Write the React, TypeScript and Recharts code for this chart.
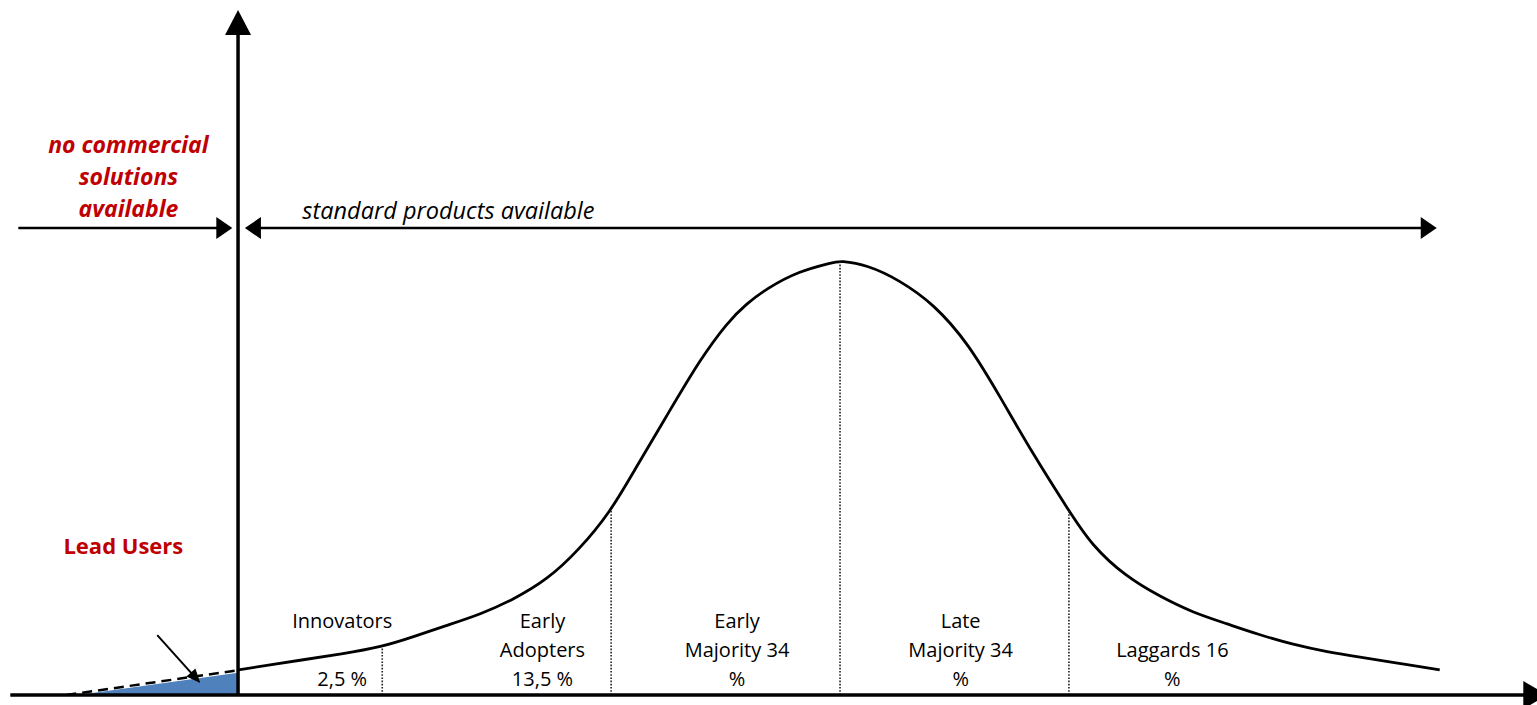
import React from 'react'
import { ComposedChart, Line, Area, XAxis, YAxis, ReferenceLine, ReferenceDot } from 'recharts'

// x: standard deviations from mean adoption time, y: adopters as % of the peak
const curveX = [-2.63, -2.49, -2.35, -2.18, -2, -1.87, -1.72, -1.57, -1.43, -1.28, -1.14, -1, -0.9, -0.76, -0.61, -0.49, -0.41, -0.32, -0.18, -0.03, 0, 0.12, 0.26, 0.41, 0.56, 0.7, 0.84, 1, 1.1, 1.25, 1.4, 1.54, 1.69, 1.83, 1.98, 2.13, 2.27, 2.42, 2.62]
const curveY = [5.8, 6.9, 8.1, 9.4, 11.1, 13.3, 16.0, 18.6, 21.9, 26.5, 33.4, 42.4, 51.6, 64.0, 77.4, 85.9, 90.0, 93.6, 97.6, 99.6, 100, 99.0, 95.5, 90.0, 81.0, 68.6, 55.7, 42.4, 34.4, 27.2, 22.6, 19.0, 16.4, 13.9, 11.6, 9.9, 8.7, 7.5, 5.8]

// lead users before market launch
const leadX = [-3.33, -2.63]
const leadY = [0, 5.1]
const dashX = [-3.38, -2.63]
const dashY = [0, 5.7]

const dividerX = [-2, -1, 0, 1]

const segmentX = [-2.175, -1.3, -0.45, 0.527, 1.452]
const segmentLines = [
  ['Innovators', '', '2,5 %'],
  ['Early', 'Adopters', '13,5 %'],
  ['Early', 'Majority 34', '%'],
  ['Late', 'Majority 34', '%'],
  ['', 'Laggards 16', '%'],
]

const AXIS_X = -2.63
const AXIS_TOP = 157.7
const MARKET_Y = 107.5

const curveData = curveX.map((x, i) => ({ x, y: curveY[i] }))
const leadData = leadX.map((x, i) => ({ x, y: leadY[i] }))
const dashData = dashX.map((x, i) => ({ x, y: dashY[i] }))

const RED = '#C00000'
const FONT = '"Open Sans", Lato, sans-serif'

const arrow = (o: { start?: boolean; end?: boolean; len: number; half: number; width: number }) =>
  (props: any) => {
    const { x1, y1, x2, y2 } = props
    const dx = x2 - x1
    const dy = y2 - y1
    const d = Math.hypot(dx, dy) || 1
    const ux = dx / d
    const uy = dy / d
    const head = (tx: number, ty: number, sx: number, sy: number) => {
      const bx = tx - sx * o.len
      const by = ty - sy * o.len
      return `${tx},${ty} ${bx - sy * o.half},${by + sx * o.half} ${bx + sy * o.half},${by - sx * o.half}`
    }
    const ax = o.start ? x1 + ux * (o.len - 1) : x1
    const ay = o.start ? y1 + uy * (o.len - 1) : y1
    const bx = o.end ? x2 - ux * (o.len - 1) : x2
    const by = o.end ? y2 - uy * (o.len - 1) : y2
    return (
      <g>
        <line x1={ax} y1={ay} x2={bx} y2={by} stroke="#000" strokeWidth={o.width} />
        {o.end && <polygon points={head(x2, y2, ux, uy)} fill="#000" />}
        {o.start && <polygon points={head(x1, y1, -ux, -uy)} fill="#000" />}
      </g>
    )
  }

export default function App() {
  return (
    <div style={{ position: 'absolute', left: 0, top: 0, background: '#fff' }}>
      <ComposedChart width={1537} height={705} margin={{ top: 0, right: 0, bottom: 10, left: 0 }}>
        <XAxis type="number" dataKey="x" domain={[-3.67, 3.045]} hide allowDataOverflow />
        <YAxis type="number" domain={[0, 160]} hide allowDataOverflow />

        <Area data={leadData} dataKey="y" type="linear" baseValue={0} stroke="none" fill="#4F81BD" fillOpacity={1} dot={false} activeDot={false} isAnimationActive={false} />
        <Line data={dashData} dataKey="y" type="linear" stroke="#000" strokeWidth={2.5} strokeDasharray="10 6" dot={false} activeDot={false} isAnimationActive={false} />
        <Line data={curveData} dataKey="y" type="basis" stroke="#000" strokeWidth={2.8} dot={false} activeDot={false} isAnimationActive={false} />

        {dividerX.map((x) => (
          <ReferenceLine
            key={x}
            segment={[{ x, y: 0 }, { x, y: curveY[curveX.indexOf(x)] }]}
            stroke="#222"
            strokeWidth={1.6}
            strokeDasharray="1.6 1.6"
          />
        ))}

        {/* axes */}
        <ReferenceLine segment={[{ x: -3.625, y: 0 }, { x: 3.09, y: 0 }]} ifOverflow="visible" shape={arrow({ end: true, len: 24, half: 14, width: 3.5 })} />
        <ReferenceLine segment={[{ x: AXIS_X, y: 0 }, { x: AXIS_X, y: AXIS_TOP }]} ifOverflow="visible" shape={arrow({ end: true, len: 25, half: 13, width: 3.5 })} />

        {/* market availability arrows */}
        <ReferenceLine segment={[{ x: -3.59, y: MARKET_Y }, { x: -2.655, y: MARKET_Y }]} shape={arrow({ end: true, len: 16, half: 11, width: 2.4 })} />
        <ReferenceLine segment={[{ x: -2.6, y: MARKET_Y }, { x: 2.607, y: MARKET_Y }]} shape={arrow({ start: true, end: true, len: 16, half: 11, width: 2.4 })} />

        {/* lead users pointer */}
        <ReferenceLine segment={[{ x: -2.983, y: 13.8 }, { x: -2.795, y: 2.76 }]} shape={arrow({ end: true, len: 14, half: 6, width: 2 })} />

        {segmentX.map((x, i) => (
          <ReferenceDot
            key={`seg-${i}`}
            x={x}
            y={0}
            r={0}
            shape={(p: any) => (
              <text textAnchor="middle" fontFamily={FONT} fontSize={20} fill="#000">
                {segmentLines[i].map((t, j) => (
                  <tspan key={j} x={p.cx} y={p.cy - 67 + j * 29}>{t}</tspan>
                ))}
              </text>
            )}
          />
        ))}

        <ReferenceDot
          x={-3.109}
          y={MARKET_Y}
          r={0}
          shape={(p: any) => (
            <text textAnchor="middle" fontFamily={FONT} fontSize={23} fontWeight="bold" fontStyle="italic" fill={RED}>
              <tspan x={p.cx} y={p.cy - 75}>no commercial</tspan>
              <tspan x={p.cx} y={p.cy - 43}>solutions</tspan>
              <tspan x={p.cx} y={p.cy - 11}>available</tspan>
            </text>
          )}
        />
        <ReferenceDot
          x={-2.349}
          y={MARKET_Y}
          r={0}
          shape={(p: any) => (
            <text x={p.cx} y={p.cy - 9} fontFamily={FONT} fontSize={23.5} fontStyle="italic" fill="#000">
              standard products available
            </text>
          )}
        />
        <ReferenceDot
          x={-3.131}
          y={32.5}
          r={0}
          shape={(p: any) => (
            <text x={p.cx} y={p.cy} textAnchor="middle" fontFamily={FONT} fontSize={22} fontWeight="bold" fill={RED}>
              Lead Users
            </text>
          )}
        />
      </ComposedChart>
    </div>
  )
}
